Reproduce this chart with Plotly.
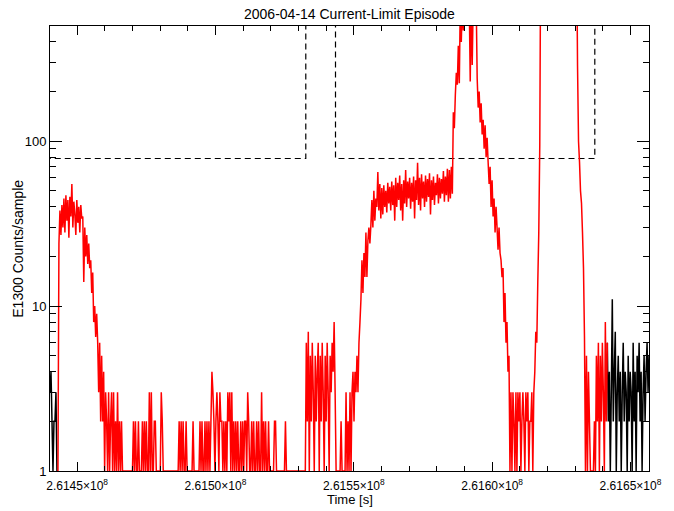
import numpy as np
import plotly.graph_objects as go

# ---------------- data ----------------
t_start = 2.614402e8          # first sample time [s]
t_step = 359.07               # sample spacing [s]

# E1300 counts per sample, one row per 10 samples
counts = [
    3, 4, 2, 1, 2, 2, 3, 1, 1, 24,
    38, 27, 41, 30, 45, 28, 47, 33, 44, 26,
    46, 35, 55, 30, 43, 36, 27, 44, 32, 40,
    28, 41, 34, 35, 14, 30, 20, 27, 18, 24,
    17, 19, 12, 16, 8, 10, 6.5, 9, 6, 3,
    6, 2, 5, 2, 4, 1, 3, 2, 1, 3,
    1, 2, 3, 1, 3, 1, 2, 1, 3, 1,
    2, 1, 2, 1, 1, 1, 1, 1, 1, 1,
    1, 1, 1, 1, 2, 1, 2, 1, 1, 2,
    1, 1, 1, 2, 1, 2, 1, 2, 1, 1,
    3, 1, 3, 1, 1, 2, 2, 1, 1, 1,
    1, 1, 3, 2, 1, 1, 1, 1, 1, 1,
    1, 1, 1, 1, 1, 1, 1, 1, 1, 1,
    2, 1, 2, 1, 2, 1, 1, 2, 1, 1,
    1, 1, 1, 1, 2, 1, 1, 1, 1, 1,
    1, 2, 1, 2, 1, 1, 2, 1, 2, 1,
    2, 1, 2, 4, 3, 2, 1, 2, 3, 2,
    1, 3, 2, 2, 1, 2, 1, 2, 1, 3,
    2, 3, 1, 3, 1, 2, 1, 2, 1, 2,
    1, 1, 2, 1, 2, 1, 2, 2, 1, 3,
    2, 1, 1, 2, 1, 2, 1, 1, 2, 1,
    2, 1, 1, 3, 1, 2, 1, 2, 1, 1,
    2, 1, 1, 1, 1, 1, 2, 2, 1, 1,
    1, 1, 1, 1, 1, 1, 1, 2, 1, 1,
    1, 1, 1, 1, 1, 1, 1, 1, 1, 1,
    1, 1, 1, 1, 1, 1, 1, 1, 6, 2,
    7, 1, 5, 2, 6, 3, 1, 5, 2, 4,
    6, 1, 5, 2, 6, 3, 1, 5, 2, 6,
    3, 1, 5, 3, 6, 4, 8, 3, 1, 1,
    1, 1, 1, 2, 1, 1, 1, 1, 3, 1,
    2, 1, 3, 1, 3, 4, 2, 4, 3, 5,
    3, 6, 8, 11, 19, 12, 21, 15, 28, 15,
    25, 30, 24, 31, 44, 30, 50, 33, 45, 40,
    65, 38, 55, 34, 52, 36, 54, 40, 50, 37,
    56, 42, 53, 38, 57, 41, 54, 33, 60, 40,
    56, 44, 62, 38, 55, 33, 58, 42, 67, 40,
    57, 45, 60, 39, 56, 43, 61, 34, 58, 44,
    74, 41, 60, 38, 63, 45, 57, 40, 62, 43,
    59, 46, 64, 36, 58, 44, 61, 41, 56, 47,
    63, 42, 60, 45, 59, 48, 66, 43, 61, 47,
    68, 43, 67, 45, 70, 48, 150, 120, 190, 260,
    220, 380, 225, 700, 400, 700, 470, 700, 700, 700,
    700, 700, 700, 230, 700, 290, 700, 700, 700, 700,
    240, 160, 200, 130, 170, 110, 135, 90, 125, 80,
    105, 75, 55, 70, 40, 58, 35, 45, 28, 40,
    30, 22, 30, 21, 19, 15, 17, 8, 12, 6,
    8, 4, 5, 1, 3, 1, 3, 2, 1, 3,
    1, 3, 2, 3, 1, 2, 3, 2, 1, 3,
    2, 3, 1, 2, 2, 3, 1, 3, 4, 7,
    6, 14, 28, 95, 2000, 2000, 2000, 2000, 2000, 2000,
    2000, 2000, 2000, 2000, 2000, 2000, 2000, 2000, 2000, 2000,
    2000, 2000, 2000, 2000, 2000, 2000, 2000, 2000, 2000, 2000,
    2000, 2000, 2000, 2000, 2000, 2000, 2000, 2000, 2000, 2000,
    2000, 290, 100, 75, 50, 42, 28, 17, 6.5, 1,
    5, 1, 4, 2, 1, 1, 1, 1, 2, 1,
    5, 2, 6, 1, 5, 2, 6, 3, 1, 8,
    2, 6, 2, 4, 1, 3, 11, 2, 4, 7,
    1, 3, 5, 2, 4, 1, 3, 6, 2, 4,
    3, 1, 5, 2, 4, 3, 1, 6, 2, 4,
    1, 5, 3, 6, 2, 4, 1, 3, 5, 2,
    4, 6, 3, 5,
]

# sample index range belonging to the episode (drawn in red)
episode_first = 8
episode_last = 561

# current-limit windows (dashed boxes) and count threshold
window_start = [2.61430e8, 2.6154339e8]
window_end = [2.6153265e8, 2.6163711e8]
threshold = 78.6

x_range = [2.614402e8, 2.616567e8]
y_range = [1, 500]

x_tickvals = [2.6145e8, 2.6150e8, 2.6155e8, 2.6160e8, 2.6165e8]
x_ticktext = ["2.6145×10<sup>8</sup>", "2.6150×10<sup>8</sup>", "2.6155×10<sup>8</sup>",
              "2.6160×10<sup>8</sup>", "2.6165×10<sup>8</sup>"]
y_tickvals = [1, 10, 100]
y_ticktext = ["1", "10", "100"]
y_minorvals = [2, 3, 4, 5, 6, 7, 8, 9, 20, 30, 40, 50, 60, 70, 80, 90, 200, 300, 400]

title_text = "2006-04-14 Current-Limit Episode"
x_title = "Time [s]"
y_title = "E1300 Counts/sample"

# ---------------- figure ----------------
t = t_start + t_step * np.arange(len(counts))
c = np.array(counts, dtype=float)

FONT = "Liberation Sans, Arial, sans-serif"
LW = 1.5
fig = go.Figure()

# dashed current-limit windows
for ws, we in zip(window_start, window_end):
    fig.add_trace(go.Scatter(
        x=[ws, ws, we, we], y=[1e4, threshold, threshold, 1e4],
        mode="lines", line=dict(color="black", width=1.2, dash="6px,4px"),
        hoverinfo="skip", showlegend=False))

# black: samples outside the episode
fig.add_trace(go.Scatter(x=t[:episode_first + 1], y=c[:episode_first + 1], mode="lines",
                         line=dict(color="black", width=LW, simplify=False), showlegend=False))
fig.add_trace(go.Scatter(x=t[episode_last:], y=c[episode_last:], mode="lines",
                         line=dict(color="black", width=LW, simplify=False), showlegend=False))
# red: episode samples
fig.add_trace(go.Scatter(x=t[episode_first:episode_last + 1], y=c[episode_first:episode_last + 1],
                         mode="lines", line=dict(color="#ff0000", width=LW, simplify=False),
                         showlegend=False))

fig.update_layout(
    width=674, height=511,
    margin=dict(l=50, r=21, t=26, b=40),
    paper_bgcolor="white", plot_bgcolor="white",
    font=dict(family=FONT, size=13, color="black"),
    showlegend=False,
    xaxis=dict(range=x_range, showgrid=False, zeroline=False,
               showline=True, linecolor="black", linewidth=1, mirror="ticks",
               ticks="inside", ticklen=9, tickwidth=1, tickcolor="black",
               tickmode="array", tickvals=x_tickvals, ticktext=x_ticktext,
               tickfont=dict(family=FONT, size=12), ticklabelstandoff=4,
               minor=dict(ticks="inside", ticklen=5, tickwidth=1, tickcolor="black",
                          tick0=2.6145e8, dtick=10000, showgrid=False)),
    yaxis=dict(type="log", range=[np.log10(y_range[0]), np.log10(y_range[1])],
               showgrid=False, zeroline=False,
               showline=True, linecolor="black", linewidth=1, mirror="ticks",
               ticks="inside", ticklen=12, tickwidth=1, tickcolor="black",
               tickmode="array", tickvals=y_tickvals, ticktext=y_ticktext,
               tickfont=dict(family=FONT, size=13),
               minor=dict(ticks="inside", ticklen=6, tickwidth=1, tickcolor="black",
                          tickmode="array", tickvals=y_minorvals, showgrid=False)),
    annotations=[
        dict(text=title_text, x=0.5, y=(471 - 14) / 445, xref="paper", yref="paper",
             xanchor="center", yanchor="middle", showarrow=False, font=dict(size=14)),
        dict(text=x_title, x=0.5, y=(471 - 499) / 445, xref="paper", yref="paper",
             xanchor="center", yanchor="middle", showarrow=False, font=dict(size=13)),
        dict(text=y_title, x=(17 - 50) / 603, y=0.5, xref="paper", yref="paper",
             xanchor="center", yanchor="middle", textangle=-90, showarrow=False,
             font=dict(size=14)),
    ],
)

fig.write_html("out.html")
